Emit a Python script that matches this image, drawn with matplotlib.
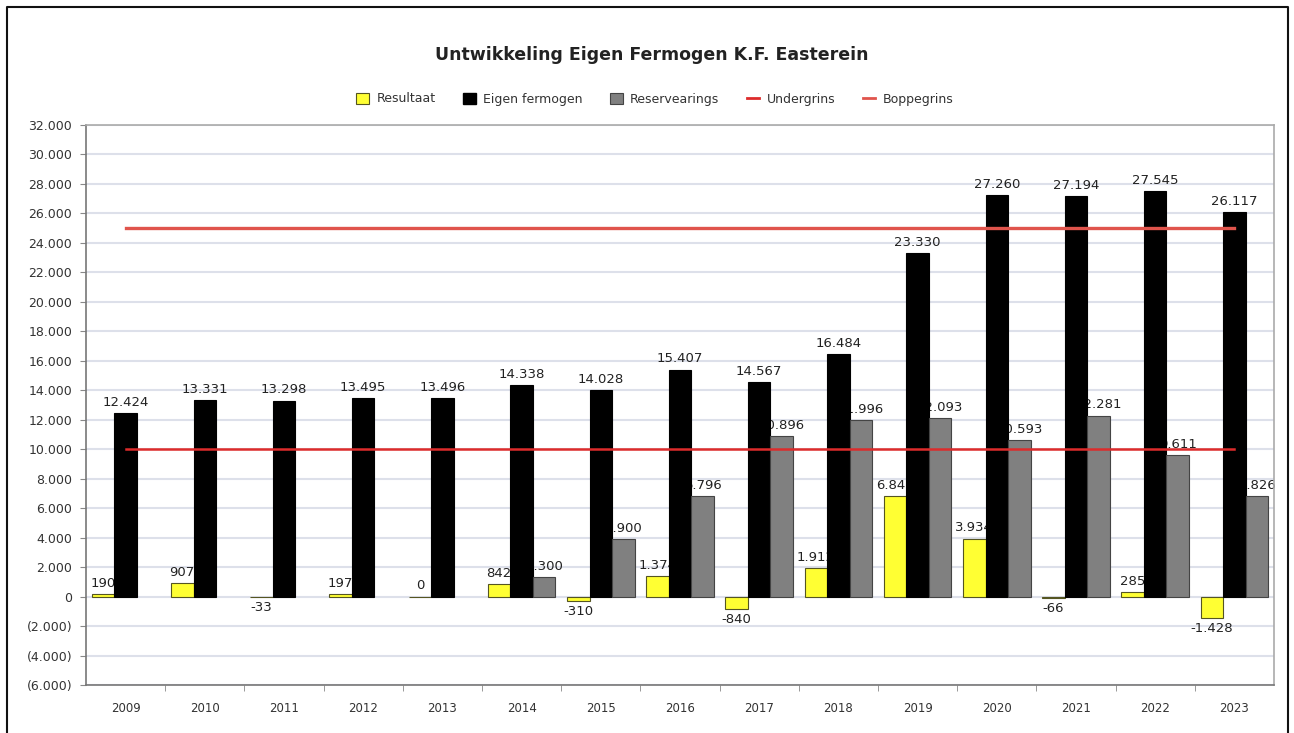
import matplotlib
matplotlib.use("Agg")
import matplotlib.pyplot as plt
import numpy as np
from matplotlib.patches import Patch
from matplotlib.lines import Line2D
from matplotlib.ticker import FuncFormatter, MultipleLocator, FixedLocator

plt.rcParams['font.family'] = ['DejaVu Sans']

years = ['2009', '2010', '2011', '2012', '2013', '2014', '2015', '2016',
         '2017', '2018', '2019', '2020', '2021', '2022', '2023']
resultaat = [190, 907, -33, 197, 0, 842, -310, 1374, -840, 1912, 6843, 3934, -66, 285, -1428]
eigen_fermogen = [12424, 13331, 13298, 13495, 13496, 14338, 14028, 15407, 14567, 16484,
                  23330, 27260, 27194, 27545, 26117]
reservearings = [None, None, None, None, None, 1300, 3900, 6796, 10896, 11996,
                 12093, 10593, 12281, 9611, 6826]
undergrins = [10000] * 15
boppegrins = [25000] * 15

title = "Untwikkeling Eigen Fermogen K.F. Easterein"
labels = ["Resultaat", "Eigen fermogen", "Reservearings", "Undergrins", "Boppegrins"]

W, H = 1294, 733
fig = plt.figure(figsize=(W / 100, H / 100), dpi=100)
ax = fig.add_axes([86 / W, 1 - 685 / H, (1274 - 86) / W, (685 - 125) / H])

x = np.arange(len(years))
bw = 0.285

def fmt(v):
    s = f"{abs(v):,.0f}".replace(",", ".")
    return "-" + s if v < 0 else s

res_col = '#ffff33'
gray_col = '#808080'

series = [
    (resultaat, -bw, res_col, '#555522'),
    (eigen_fermogen, 0.0, '#000000', '#000000'),
    (reservearings, bw, gray_col, '#444444'),
]
for vals, off, fc, ec in series:
    for xi, v in zip(x, vals):
        if v is None:
            continue
        ax.bar(xi + off, v, width=bw, color=fc, edgecolor=ec, linewidth=0.8, zorder=3)
        if v >= 0:
            ax.text(xi + off, v + 280, fmt(v), ha='center', va='bottom', fontsize=9.5,
                    color='#222222', zorder=2.5)
        else:
            ax.text(xi + off, v - 280, fmt(v), ha='center', va='top', fontsize=9.5,
                    color='#222222', zorder=2.5)

ax.plot(x, undergrins, color='#dd2b2b', lw=1.8, zorder=4)
ax.plot(x, boppegrins, color='#e0544c', lw=2.4, zorder=4)

ax.set_xlim(-0.5, len(years) - 0.5)
ax.set_ylim(-6000, 32000)
ax.yaxis.set_major_locator(MultipleLocator(2000))

def yfmt(v, pos):
    s = f"{abs(v):,.0f}".replace(",", ".")
    return f"({s})" if v < 0 else s

ax.yaxis.set_major_formatter(FuncFormatter(yfmt))
ax.set_xticks(x)
ax.set_xticklabels(years)
ax.xaxis.set_minor_locator(FixedLocator(np.arange(0.5, len(years) - 1, 1.0)))
ax.tick_params(axis='x', which='major', length=0, pad=12, labelsize=8.5, labelcolor='#333333')
ax.tick_params(axis='x', which='minor', length=4, color='#888888', direction='out')
ax.tick_params(axis='y', which='major', length=4, color='#888888', labelsize=9,
               labelcolor='#333333', pad=6)

ax.grid(axis='y', color='#dde0ea', lw=1.5, zorder=0)
ax.set_axisbelow(True)
for side in ['top', 'right']:
    ax.spines[side].set_color('#aaaaaa')
    ax.spines[side].set_linewidth(1.2)
for side in ['left', 'bottom']:
    ax.spines[side].set_color('#777777')
    ax.spines[side].set_linewidth(1.2)

fig.text(652 / W, 1 - 55 / H, title, ha='center', va='center', fontsize=12.5,
         fontweight='bold', color='#222222')

handles = [
    Patch(facecolor=res_col, edgecolor='#555522', lw=0.8),
    Patch(facecolor='#000000', edgecolor='#000000'),
    Patch(facecolor=gray_col, edgecolor='#444444', lw=0.8),
    Line2D([], [], color='#dd2b2b', lw=2),
    Line2D([], [], color='#e0544c', lw=2),
]
fig.legend(handles, labels, loc='center', bbox_to_anchor=(655 / W, 1 - 99 / H), ncol=5,
           frameon=False, fontsize=9, handlelength=1.0, handleheight=1.0,
           handletextpad=0.6, columnspacing=2.2, labelcolor='#333333')

# outer border
fig.add_artist(Line2D([7 / W, 7 / W, 1288 / W, 1288 / W], [0, 1 - 7 / H, 1 - 7 / H, 0],
                      transform=fig.transFigure, color='#111111', lw=1.5))

fig.savefig("out.png", dpi=100)
